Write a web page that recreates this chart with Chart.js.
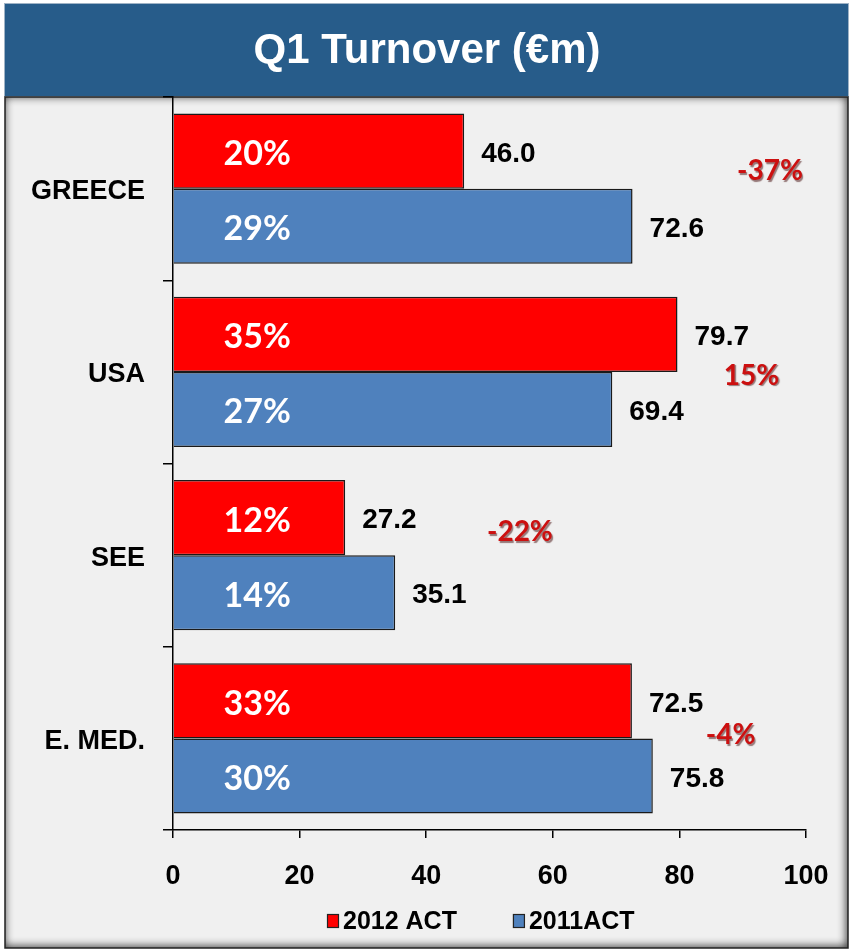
<!DOCTYPE html>
<html><head><meta charset="utf-8">
<script src="https://cdn.jsdelivr.net/npm/chart.js@4.4.1/dist/chart.umd.min.js"></script>
<style>html,body{margin:0;padding:0;background:#fff;}canvas{display:block;}</style>
</head><body>
<canvas id="c" width="852" height="951"></canvas>
<script>
const chartTitle = 'Q1 Turnover (€m)';
const categories = ['GREECE', 'USA', 'SEE', 'E. MED.'];
const seriesNames = ['2012 ACT', '2011ACT'];
const turnover2012 = [46.0, 79.7, 27.2, 72.5];
const turnover2011 = [72.6, 69.4, 35.1, 75.8];
const share2012 = ['20%', '35%', '12%', '33%'];
const share2011 = ['29%', '27%', '14%', '30%'];
const changeLabels = ['-37%', '15%', '-22%', '-4%'];
const xTickValues = [0, 20, 40, 60, 80, 100];

const RED = '#FF0000', BLUE = '#4F81BD';
const SANS = '"Liberation Sans", Arial, sans-serif';
const CALI = 'Lato, "Open Sans", sans-serif';

const backgroundPlugin = {
  id: 'panelBg',
  beforeDraw(chart) {
    const ctx = chart.ctx;
    ctx.save();
    ctx.fillStyle = '#ffffff';
    ctx.fillRect(0, 0, chart.width, chart.height);
    // title bar
    ctx.fillStyle = '#275C8A';
    ctx.fillRect(5, 4, 843, 92);
    ctx.strokeStyle = '#9fb3c6';
    ctx.lineWidth = 1;
    ctx.strokeRect(4.5, 3.5, 844, 93);
    ctx.fillStyle = '#ffffff';
    ctx.font = 'bold 42px ' + SANS;
    ctx.textAlign = 'center';
    ctx.textBaseline = 'middle';
    ctx.fillText(chartTitle, 427, 51);
    // panel
    const px = 5, py = 97, pw = 843, ph = 851;
    ctx.fillStyle = '#F0F0F0';
    ctx.fillRect(px, py, pw, ph);
    ctx.save();
    ctx.beginPath();
    ctx.rect(px, py, pw, ph);
    ctx.clip();
    ctx.shadowColor = 'rgba(0,0,0,0.9)';
    ctx.shadowBlur = 10;
    ctx.shadowOffsetX = -1;
    ctx.shadowOffsetY = -1;
    ctx.strokeStyle = '#000';
    ctx.lineWidth = 8;
    ctx.strokeRect(px - 4, py - 4, pw + 8, ph + 8);
    ctx.restore();
    ctx.strokeStyle = '#222';
    ctx.lineWidth = 1.5;
    ctx.strokeRect(px, py, pw, ph);
    ctx.restore();
  }
};

const labelPlugin = {
  id: 'barLabels',
  afterDatasetsDraw(chart, args, opts) {
    const ctx = chart.ctx;
    const xs = chart.scales.x, ys = chart.scales.y;
    const shares = [share2012, share2011];
    ctx.save();
    chart.data.datasets.forEach((ds, di) => {
      const meta = chart.getDatasetMeta(di);
      meta.data.forEach((bar, i) => {
        ctx.font = 'bold 28px ' + SANS;
        ctx.fillStyle = '#000';
        ctx.textAlign = 'left';
        ctx.textBaseline = 'middle';
        ctx.fillText(ds.data[i].toFixed(1), bar.x + 17, bar.y + 3);
        ctx.font = 'bold 34px ' + CALI;
        ctx.fillStyle = '#fff';
        ctx.textAlign = 'center';
        ctx.fillText(shares[di][i], xs.getPixelForValue(opts.shareAt), bar.y + 3);
      });
    });
    ctx.font = 'bold 28px ' + CALI;
    ctx.textAlign = 'center';
    ctx.textBaseline = 'middle';
    ctx.fillStyle = '#CC1010';
    ctx.shadowColor = 'rgba(60,0,0,0.5)';
    ctx.shadowOffsetX = 1.3;
    ctx.shadowOffsetY = 1.3;
    ctx.shadowBlur = 1;
    changeLabels.forEach((t, i) => {
      const x = xs.getPixelForValue(opts.changeX[i]);
      const y = ys.getPixelForValue(i + opts.changeDY[i]);
      ctx.fillText(t, x, y);
    });
    ctx.restore();
  }
};

const legendPlugin = {
  id: 'customLegend',
  afterDraw(chart) {
    const ctx = chart.ctx;
    const ca = chart.chartArea;
    const y = 921;
    ctx.save();
    ctx.font = 'bold 25px ' + SANS;
    ctx.textBaseline = 'middle';
    ctx.textAlign = 'left';
    let x = ca.left + 154;
    chart.data.datasets.forEach((ds, di) => {
      ctx.fillStyle = ds.backgroundColor;
      ctx.fillRect(x, y - 7, 12, 14);
      ctx.strokeStyle = '#222';
      ctx.lineWidth = 1.2;
      ctx.strokeRect(x + 0.5, y - 6.5, 11, 13);
      ctx.fillStyle = '#000';
      ctx.fillText(ds.label, x + 16, y + 1);
      x += 16 + ctx.measureText(ds.label).width + 56;
    });
    ctx.restore();
  }
};

new Chart(document.getElementById('c'), {
  type: 'bar',
  data: {
    labels: categories,
    datasets: [
      { label: seriesNames[0], data: turnover2012, backgroundColor: RED, borderColor: '#1a1a1a', borderWidth: 1.5 },
      { label: seriesNames[1], data: turnover2011, backgroundColor: BLUE, borderColor: '#1a1a1a', borderWidth: 1.5 }
    ]
  },
  options: {
    indexAxis: 'y',
    responsive: false,
    animation: false,
    devicePixelRatio: 1,
    datasets: { bar: { categoryPercentage: 0.82, barPercentage: 1.0 } },
    layout: { padding: { left: 0, right: 46, top: 97, bottom: 0 } },
    scales: {
      x: {
        min: 0, max: 100,
        afterBuildTicks(s) { s.ticks = xTickValues.map(v => ({ value: v })); },
        afterFit(s) { s.height = 121; },
        grid: { drawOnChartArea: false, drawTicks: true, tickLength: 8, color: '#000', lineWidth: 1.5 },
        border: { display: true, color: '#000', width: 1.5 },
        ticks: { color: '#000', padding: 22, font: { family: SANS, size: 27, weight: 'bold' } }
      },
      y: {
        afterFit(s) { s.width = 173; },
        grid: { drawOnChartArea: false, drawTicks: true, tickLength: 10, color: '#000', lineWidth: 1.5, offset: true },
        border: { display: true, color: '#000', width: 1.5 },
        ticks: { color: '#000', padding: 18, labelOffset: 3, font: { family: SANS, size: 27, weight: 'bold' } }
      }
    },
    plugins: {
      legend: { display: false },
      tooltip: { enabled: false },
      title: { display: false },
      barLabels: {
        shareAt: 13.3,
        changeX: [94.3, 91.4, 54.8, 88.1],
        changeDY: [-0.095, 0.022, -0.125, -0.016]
      }
    }
  },
  plugins: [backgroundPlugin, labelPlugin, legendPlugin]
});
</script>
</body></html>
